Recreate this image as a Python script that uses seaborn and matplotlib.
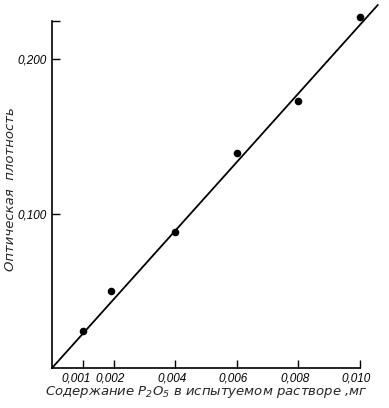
import numpy as np
import pandas as pd
import seaborn as sns
from matplotlib import pyplot as plt
from matplotlib import transforms

# measured points
content = [0.001, 0.0019, 0.004, 0.006, 0.008, 0.010]
density = [0.0243, 0.0502, 0.0884, 0.1393, 0.1729, 0.2273]

# calibration line
line_x = [0.0, 0.01058]
line_y = [0.0, 0.2353]

x_ticks = [0.001, 0.002, 0.004, 0.006, 0.008, 0.010]
x_labels = ['0,001', '0,002', '0,004', '0,006', '0,008', '0,010']
y_ticks = [0.100, 0.200, 0.225]
y_labels = ['0,100', '0,200', '']

sns.set_style('ticks')
plt.rcParams['font.family'] = ['DejaVu Sans']
plt.rcParams['font.style'] = 'italic'
plt.rcParams['mathtext.default'] = 'it'
tick_font = ['Liberation Sans', 'DejaVu Sans']

df = pd.DataFrame(dict(content=content, density=density))
fit = pd.DataFrame(dict(x=line_x, y=line_y))

fig = plt.figure(figsize=(3.89, 4.08), dpi=100)
ax = fig.add_axes([0.1337, 0.098, 0.7917, 0.851])

sns.lineplot(x='x', y='y', data=fit, ax=ax, color='black', lw=1.3, clip_on=False)
sns.scatterplot(x='content', y='density', data=df, ax=ax, color='black',
                s=30, edgecolor='black', linewidth=0, clip_on=False, zorder=3)

ax.set_xlim(0, 0.010)
ax.set_ylim(0, 0.225)
ax.set_xticks(x_ticks)
ax.set_xticklabels(x_labels, fontsize=8.5, style='italic', family=tick_font)
ax.set_yticks(y_ticks)
ax.set_yticklabels(y_labels, fontsize=8.5, style='italic', family=tick_font)
ax.tick_params(direction='in', length=6, width=1, colors='black')
ax.tick_params(axis='y', pad=4)
ax.tick_params(axis='x', pad=3)

# italic labels sit a little left of their ticks in the original,
# the first one more so to clear its neighbour
for i, lab in enumerate(ax.get_xticklabels()):
    dx = -5 if i == 0 else -2.5
    shift = transforms.ScaledTranslation(dx / 72, 0, fig.dpi_scale_trans)
    lab.set_transform(lab.get_transform() + shift)

for s in ['top', 'right']:
    ax.spines[s].set_visible(False)
for s in ['left', 'bottom']:
    ax.spines[s].set_linewidth(1.2)
    ax.spines[s].set_color('black')

ax.set_xlabel('Содержание P$_2$O$_5$ в испытуемом растворе ,мг', fontsize=9.5,
              style='italic')
ax.xaxis.set_label_coords(0.5, -0.045)
ax.set_ylabel('Оптическая  плотность', fontsize=9.5, style='italic')
ax.yaxis.set_label_coords(-0.115, 0.515)

plt.savefig('out.png', dpi=100)
plt.close()
